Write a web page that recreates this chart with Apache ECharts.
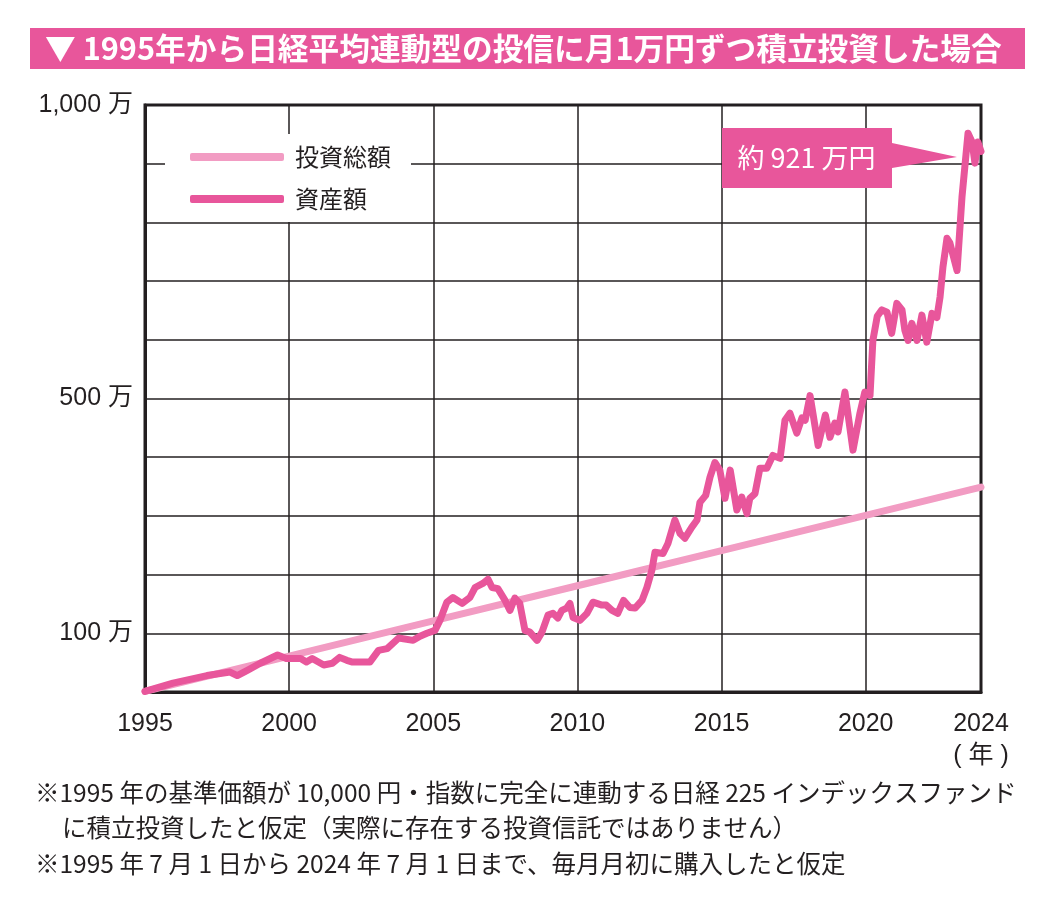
<!DOCTYPE html>
<html>
<head>
<meta charset="utf-8">
<script src="https://cdn.jsdelivr.net/npm/echarts@6/dist/echarts.min.js"></script>
<style>
html,body{margin:0;padding:0;background:#fff;}
#chart{width:1040px;height:901px;}
</style>
</head>
<body>
<div id="chart"></div>
<script>
// ---- data ----
const titleText = '▼ 1995年から日経平均連動型の投信に月1万円ずつ積立投資した場合';
const seriesNames = ['投資総額', '資産額'];
const xTickLabels = [1995, 2000, 2005, 2010, 2015, 2020, 2024];
const yTickLabels = { 100: '100 万', 500: '500 万', 1000: '1,000 万' };

const investYears  = [1995, 2000, 2005, 2010, 2015, 2020, 2024];
const investValues = [1, 61, 121, 181, 241, 301, 349];

const assetYears = [
  1995.00, 1995.97, 1997.15, 1997.95, 1998.20, 1998.55, 1999.00, 1999.60, 1999.90, 2000.40,
  2000.60, 2000.80, 2001.20, 2001.50, 2001.75, 2002.00, 2002.20, 2002.80, 2003.10, 2003.40,
  2003.80, 2004.30, 2004.54, 2004.78, 2005.06, 2005.23, 2005.47, 2005.68, 2006.00, 2006.27,
  2006.45, 2006.72, 2006.90, 2007.04, 2007.24, 2007.49, 2007.66, 2007.83, 2008.00, 2008.18,
  2008.35, 2008.60, 2008.77, 2008.98, 2009.15, 2009.32, 2009.46, 2009.63, 2009.74, 2009.85,
  2010.09, 2010.33, 2010.54, 2010.85, 2011.00, 2011.20, 2011.40, 2011.60, 2011.82, 2012.00,
  2012.24, 2012.41, 2012.58, 2012.69, 2012.97, 2013.14, 2013.38, 2013.56, 2013.73, 2013.97,
  2014.15, 2014.25, 2014.45, 2014.60, 2014.77, 2014.94, 2015.12, 2015.30, 2015.53, 2015.70,
  2015.88, 2015.98, 2016.16, 2016.33, 2016.57, 2016.78, 2017.03, 2017.20, 2017.37, 2017.61,
  2017.79, 2017.90, 2018.07, 2018.35, 2018.60, 2018.76, 2018.93, 2019.04, 2019.28, 2019.56,
  2019.80, 2019.97, 2020.15, 2020.25, 2020.40, 2020.56, 2020.74, 2020.90, 2021.08, 2021.26,
  2021.36, 2021.47, 2021.60, 2021.78, 2021.95, 2022.12, 2022.30, 2022.47, 2022.58, 2022.68,
  2022.82, 2022.92, 2023.17, 2023.34, 2023.55, 2023.69, 2023.79, 2023.89, 2024.00
];
const assetValues = [
  1, 15, 28, 34, 28, 37, 49, 63, 57, 57,
  51, 57, 46, 49, 59, 54, 51, 51, 71, 74,
  92, 88, 95, 100, 105, 122, 153, 161, 151, 161,
  178, 185, 192, 178, 176, 156, 139, 160, 151, 105,
  102, 88, 102, 131, 134, 126, 139, 143, 151, 127,
  122, 134, 153, 148, 148, 139, 134, 156, 144, 143,
  156, 178, 207, 238, 236, 253, 293, 270, 262, 281,
  293, 323, 335, 366, 391, 378, 330, 378, 310, 332,
  304, 330, 338, 381, 381, 403, 398, 463, 475, 441,
  467, 463, 505, 420, 472, 434, 458, 443, 511, 412,
  475, 511, 505, 599, 640, 651, 647, 611, 662, 651,
  616, 599, 628, 599, 642, 596, 645, 638, 673, 724,
  773, 765, 718, 843, 952, 937, 901, 937, 921
];

const footnotes = [
  '※1995 年の基準価額が 10,000 円・指数に完全に連動する日経 225 インデックスファンド',
  'に積立投資したと仮定（実際に存在する投資信託ではありません）',
  '※1995 年 7 月 1 日から 2024 年 7 月 1 日まで、毎月月初に購入したと仮定'
];

// ---- styles ----
const PINK = '#E8569B';
const LIGHT_PINK = '#F29CC3';
const INK = '#231F20';
const JP = '"Noto Sans CJK JP", "Noto Sans", sans-serif';
const LAT = '"Liberation Sans", "Noto Sans CJK JP", sans-serif';

const zip = (xs, ys) => xs.map((x, i) => [x, ys[i]]);
const lastAsset = assetValues[assetValues.length - 1];

const chart = echarts.init(document.getElementById('chart'), null, { renderer: 'canvas' });
chart.setOption({
  animation: false,
  backgroundColor: '#fff',
  grid: { left: 145, right: 59, top: 105, bottom: 209, show: true, borderColor: INK, borderWidth: 3, backgroundColor: 'transparent' },
  legend: {
    data: seriesNames,
    orient: 'vertical',
    left: 165, top: 134,
    itemWidth: 94, itemHeight: 8, itemGap: 16,
    icon: 'roundRect',
    backgroundColor: '#fff',
    padding: [10, 20, 10, 25],
    textStyle: { fontSize: 24, color: INK, fontFamily: JP, lineHeight: 26, padding: [0, 0, 0, 6] }
  },
  xAxis: {
    type: 'value', min: 1995, max: 2024, interval: 5,
    axisLine: { show: true, lineStyle: { color: INK, width: 3 } },
    axisTick: { show: false },
    splitLine: { show: true, lineStyle: { color: INK, width: 1.5 } },
    axisLabel: {
      customValues: xTickLabels,
      margin: 16, fontSize: 25, color: INK, fontFamily: LAT, lineHeight: 32,
      formatter: v => v === 2024 ? '2024\n( 年 )' : String(v)
    }
  },
  yAxis: {
    type: 'value', min: 0, max: 1000, interval: 100,
    axisLine: { show: true, lineStyle: { color: INK, width: 3 } },
    axisTick: { show: false },
    splitLine: { show: true, lineStyle: { color: INK, width: 1.5 } },
    axisLabel: {
      margin: 12, fontSize: 25, color: INK, fontFamily: LAT,
      formatter: v => yTickLabels[v] || ''
    }
  },
  series: [
    {
      name: seriesNames[0], type: 'line', data: zip(investYears, investValues),
      showSymbol: false, color: LIGHT_PINK,
      lineStyle: { width: 7, color: LIGHT_PINK, cap: 'round' }, z: 2
    },
    {
      name: seriesNames[1], type: 'line', data: zip(assetYears, assetValues),
      showSymbol: false, color: PINK,
      lineStyle: { width: 7, color: PINK, join: 'round', cap: 'round' }, z: 3,
      markPoint: {
        silent: true,
        data: [{ coord: [2024, lastAsset], value: lastAsset }],
        symbol: 'path://M0,0 L170,0 L170,15 L235,29 L170,40 L170,60 L0,60 Z',
        symbolSize: [235, 60],
        symbolKeepAspect: false,
        symbolOffset: [-141.5, 6.7],
        itemStyle: { color: PINK },
        label: {
          show: true, position: 'inside', offset: [-33, 0],
          color: '#fff', fontSize: 27, fontFamily: JP,
          formatter: p => '約 ' + p.value + ' 万円'
        }
      }
    }
  ],
  graphic: [
    { type: 'rect', left: 30, top: 28, shape: { width: 995, height: 41 }, style: { fill: PINK } },
    { type: 'text', left: 45, top: 28, style: { text: titleText, fill: '#fff', font: 'bold 30.7px ' + JP, lineHeight: 41, height: 41, verticalAlign: 'top' } },
    { type: 'text', left: 35, top: 780, style: { text: footnotes[0], fill: INK, font: '24.5px ' + JP } },
    { type: 'text', left: 62, top: 815, style: { text: footnotes[1], fill: INK, font: '24.5px ' + JP } },
    { type: 'text', left: 35, top: 851, style: { text: footnotes[2], fill: INK, font: '24.5px ' + JP } }
  ]
});
</script>
</body>
</html>
